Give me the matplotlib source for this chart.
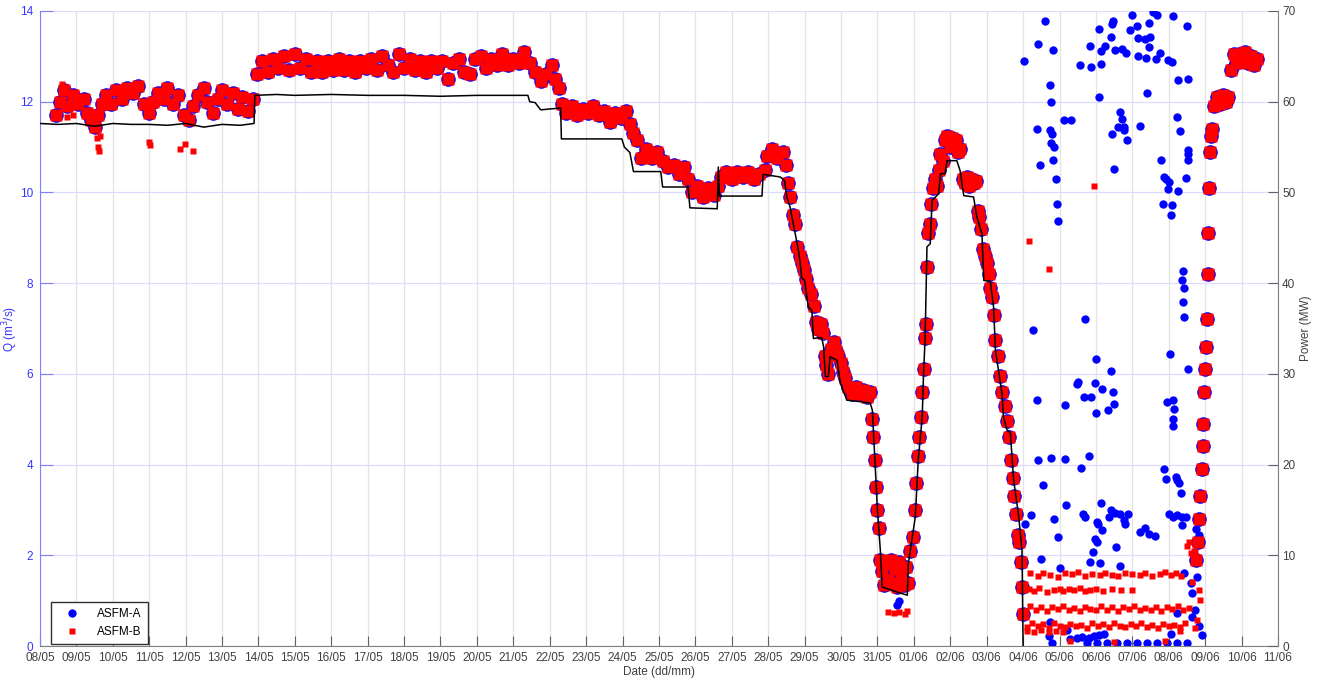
"""
ASFM flow meters vs generated power, 08/05 - 11/06
"""

import matplotlib
matplotlib.use("Agg")
import matplotlib.pyplot as plt
import matplotlib.dates as mdates
from datetime import datetime, timedelta

plt.rcParams['font.family'] = ['Liberation Sans', 'DejaVu Sans']
plt.rcParams['font.size'] = 8.5

START = datetime(2017, 5, 8)   # 08/05 = day 0

# Flow record where both meters agree (days after 08/05, Q in m3/s)
flow_0805_day = [0.45, 0.55, 0.65, 0.75, 0.9, 1.05, 1.2, 1.3, 1.4, 1.5,
                 1.6, 1.7, 1.8, 1.95, 2.1, 2.25, 2.4, 2.55, 2.7, 2.85,
                 3.0, 3.1, 3.25, 3.4, 3.5, 3.65, 3.8, 3.95, 4.1, 4.2,
                 4.35, 4.5, 4.6, 4.75, 4.9, 5.0, 5.15, 5.3, 5.45, 5.55,
                 5.7, 5.85]
flow_0805_q = [11.7, 12.0, 12.25, 11.9, 12.15, 11.95, 12.05, 11.75, 11.6, 11.45,
               11.7, 11.95, 12.15, 11.95, 12.25, 12.05, 12.3, 12.2, 12.35, 11.95,
               11.75, 12.0, 12.2, 12.05, 12.3, 11.95, 12.15, 11.7, 11.6, 11.9,
               12.15, 12.3, 12.0, 11.75, 12.05, 12.25, 11.95, 12.2, 11.85, 12.1,
               11.8, 12.05]

flow_1405_day = [5.95, 6.1, 6.25, 6.4, 6.55, 6.7, 6.85, 7.0, 7.15, 7.3,
                 7.45, 7.6, 7.75, 7.9, 8.05, 8.2, 8.35, 8.5, 8.65, 8.8,
                 8.95, 9.1, 9.25, 9.4, 9.55, 9.7, 9.85, 10.0, 10.15, 10.3,
                 10.45, 10.6, 10.75, 10.9, 11.05, 11.2, 11.35, 11.5, 11.65, 11.8,
                 11.95, 12.1, 12.25, 12.4, 12.55, 12.7, 12.85, 13.0, 13.15, 13.3,
                 13.45, 13.6, 13.75, 13.9, 14.05, 14.15]
flow_1405_q = [12.6, 12.9, 12.65, 12.95, 12.75, 13.0, 12.7, 13.05, 12.75, 12.95,
               12.65, 12.9, 12.65, 12.9, 12.7, 12.95, 12.7, 12.9, 12.65, 12.9,
               12.75, 12.95, 12.7, 13.0, 12.8, 12.65, 13.05, 12.75, 12.95, 12.7,
               12.9, 12.65, 12.9, 12.75, 12.9, 12.5, 12.85, 12.95, 12.65, 12.6,
               12.95, 13.0, 12.75, 12.95, 12.8, 13.05, 12.8, 12.95, 12.85, 13.1,
               12.85, 12.65, 12.45, 12.6, 12.8, 12.5]

flow_2205_day = [14.25, 14.35, 14.45, 14.6, 14.75, 14.9, 15.05, 15.2, 15.35, 15.5,
                 15.65, 15.8, 15.95, 16.1, 16.2, 16.3, 16.4, 16.5, 16.65, 16.8,
                 16.95, 17.1, 17.25, 17.4, 17.55, 17.7, 17.8, 17.9, 18.05, 18.2,
                 18.35, 18.5, 18.62, 18.7, 18.85, 19.0, 19.15, 19.3, 19.45, 19.6,
                 19.75, 19.9, 19.97, 20.1, 20.25, 20.4, 20.5]
flow_2205_q = [12.3, 11.95, 11.75, 11.9, 11.7, 11.85, 11.75, 11.9, 11.7, 11.8,
               11.55, 11.75, 11.65, 11.8, 11.5, 11.3, 11.15, 10.75, 10.95, 10.75,
               10.9, 10.7, 10.55, 10.6, 10.4, 10.55, 10.3, 10.0, 10.15, 9.9,
               10.1, 9.95, 10.15, 10.35, 10.45, 10.3, 10.45, 10.35, 10.45, 10.3,
               10.4, 10.5, 10.8, 10.95, 10.75, 10.9, 10.6]

flow_2805_day = [20.55, 20.6, 20.67, 20.73, 20.8, 20.86, 20.92, 20.98, 21.04, 21.1,
                 21.17, 21.25, 21.3, 21.37, 21.44, 21.5, 21.55, 21.6, 21.65, 21.72,
                 21.8, 21.87, 21.93, 22.0, 22.06, 22.12, 22.2, 22.3, 22.4, 22.5,
                 22.6, 22.7, 22.8]
flow_2805_q = [10.2, 9.9, 9.5, 9.3, 8.8, 8.6, 8.45, 8.3, 8.1, 7.9,
               7.75, 7.5, 7.15, 7.0, 7.1, 6.9, 6.4, 6.2, 6.0, 6.55,
               6.7, 6.5, 6.4, 6.25, 6.05, 5.9, 5.7, 5.55, 5.7, 5.55,
               5.65, 5.5, 5.6]

flow_3005_day = [22.85, 22.88, 22.92, 22.96, 22.99, 23.03, 23.07, 23.12, 23.18, 23.24,
                 23.3, 23.36, 23.42, 23.48, 23.54, 23.6, 23.66, 23.72, 23.78, 23.84,
                 23.9, 23.97, 24.03, 24.07, 24.11, 24.15, 24.19, 24.23, 24.27, 24.3,
                 24.33, 24.36, 24.4, 24.44, 24.48, 24.52, 24.57, 24.63, 24.68, 24.73,
                 24.8, 24.86, 24.92, 24.98, 25.04, 25.1, 25.16, 25.22, 25.28, 25.34,
                 25.4, 25.46, 25.52, 25.58, 25.64, 25.7, 25.76, 25.8, 25.85, 25.9,
                 25.95, 26.0, 26.06, 26.1, 26.15, 26.2, 26.24, 26.3, 26.36, 26.42,
                 26.5, 26.56, 26.62, 26.68, 26.72, 26.76, 26.8, 26.85, 26.9, 26.95,
                 26.98, 27.01]
flow_3005_q = [5.0, 4.6, 4.1, 3.5, 3.0, 2.6, 1.9, 1.65, 1.35, 1.8,
               1.45, 1.9, 1.4, 1.7, 1.3, 1.85, 1.5, 1.35, 1.75, 1.4,
               2.1, 2.4, 3.0, 3.6, 4.2, 4.6, 5.05, 5.6, 6.1, 6.8,
               7.1, 8.35, 9.1, 9.3, 9.75, 10.1, 10.3, 10.15, 10.5, 10.85,
               10.7, 11.15, 11.25, 11.0, 11.2, 11.05, 11.15, 10.9, 10.95, 10.3,
               10.2, 10.35, 10.15, 10.3, 10.2, 10.25, 9.6, 9.45, 9.2, 8.75,
               8.6, 8.45, 8.2, 7.9, 7.7, 7.3, 6.75, 6.4, 5.95, 5.6,
               5.3, 4.95, 4.6, 4.1, 3.7, 3.3, 2.9, 2.45, 2.3, 1.85,
               1.3, 0.7]

flow_0906_day = [31.75, 31.8, 31.84, 31.87, 31.9, 31.93, 31.95, 31.98, 32.0, 32.03,
                 32.05, 32.07, 32.09, 32.11, 32.14, 32.17, 32.2, 32.25, 32.32, 32.4,
                 32.48, 32.56, 32.64, 32.72, 32.78, 32.86, 32.94, 33.02, 33.1, 33.18,
                 33.26, 33.34, 33.42]
flow_0906_q = [1.9, 2.3, 2.8, 3.3, 3.9, 4.4, 4.9, 5.6, 6.1, 6.6,
               7.2, 8.2, 9.1, 10.1, 10.9, 11.25, 11.4, 11.9, 12.1, 11.95,
               12.15, 12.0, 12.1, 12.7, 13.05, 12.85, 13.05, 12.9, 13.1, 12.85,
               13.0, 12.8, 12.95]

# ASFM-A readings that scatter away from the record (mostly 04/06 - 09/06)
asfm_a_day = [27.03, 27.40, 27.59, 27.81, 27.74, 27.76, 27.38, 27.74, 27.79, 27.77,
              27.84, 27.82, 27.47, 27.90, 27.93, 27.95, 28.11, 28.31, 28.55, 28.84,
              28.87, 29.09, 29.13, 29.14, 29.24, 29.09, 29.42, 29.45, 29.47, 29.53,
              29.71, 29.82, 29.94, 29.99, 30.12, 30.15, 30.15, 30.35, 30.49, 30.45,
              30.47, 30.58, 30.67, 30.38, 30.66, 30.77, 30.98, 31.10, 31.11, 31.50,
              31.26, 31.52, 30.40, 29.49, 29.44, 29.67, 29.71, 29.76, 29.78, 29.85,
              30.22, 29.62, 31.23, 31.32, 30.80, 30.86, 30.92, 31.00, 30.97, 30.83,
              31.10, 31.06, 31.26, 31.54, 31.54, 31.52, 31.47,
              27.26, 27.38, 27.49, 27.54, 27.21, 27.06, 27.84, 27.97, 28.00, 27.42,
              27.77, 28.16, 28.19, 28.14, 28.60, 28.80, 28.71, 28.48, 28.52, 28.68,
              28.86, 28.98, 29.00, 29.01, 29.16, 29.14, 28.64, 28.71, 29.03, 29.05,
              29.16, 28.98, 29.04, 28.91, 28.84, 29.10, 29.32, 29.42, 29.47, 29.50,
              29.35, 29.41, 29.53, 29.65, 29.78, 29.81, 29.88, 29.55, 29.67, 30.22,
              30.35, 30.45, 30.63, 30.88, 30.92, 30.96, 31.04, 31.11, 31.11, 31.12,
              31.15, 31.20, 31.22, 31.29, 31.33, 31.02, 31.13, 31.22, 31.36, 31.47,
              31.37, 31.74, 31.82, 31.41, 31.40, 31.37, 31.42, 31.40, 31.41, 31.54,
              27.79, 27.75, 27.70, 28.21, 28.30, 28.48, 28.62, 28.80, 28.94, 29.08,
              29.21, 31.05, 31.23, 31.60, 31.64, 31.78, 31.73, 31.64, 31.82, 31.92,
              30.95, 28.76, 29.03, 29.31, 29.58, 29.86, 30.13, 30.40, 30.68, 31.22,
              31.50, 23.55, 23.58]
asfm_a_q = [12.89, 13.28, 13.77, 13.15, 12.37, 11.99, 11.40, 11.38, 11.29, 11.09,
            11.01, 10.72, 10.60, 10.30, 9.74, 9.36, 11.59, 11.59, 12.80, 13.22,
            12.76, 13.61, 12.83, 13.11, 13.22, 12.10, 13.42, 13.72, 13.77, 13.13,
            13.17, 13.08, 13.59, 13.92, 13.68, 13.40, 13.00, 13.39, 13.42, 13.20,
            13.73, 13.97, 13.92, 12.97, 12.94, 13.07, 12.91, 12.87, 13.90, 13.68,
            12.47, 12.49, 12.20, 10.52, 11.29, 11.77, 11.62, 11.44, 11.37, 11.15,
            11.46, 11.44, 11.67, 11.35, 10.72, 10.34, 10.29, 10.23, 10.07, 9.74,
            9.72, 9.51, 10.04, 10.93, 10.85, 10.71, 10.32,
            6.96, 5.42, 1.91, 3.54, 2.88, 2.68, 2.81, 2.41, 1.71, 4.11,
            4.15, 4.13, 3.10, 5.31, 3.93, 4.20, 7.20, 5.78, 5.81, 5.49,
            5.49, 5.80, 6.33, 5.14, 5.67, 3.15, 2.92, 2.85, 2.74, 2.70,
            2.55, 2.35, 2.30, 2.08, 1.86, 1.82, 5.20, 6.07, 5.61, 5.33,
            2.85, 2.99, 2.93, 2.92, 2.77, 2.70, 2.90, 2.19, 1.76, 2.52,
            2.60, 2.46, 2.43, 3.91, 3.68, 5.38, 6.43, 5.42, 5.01, 4.84,
            5.23, 3.73, 3.65, 3.60, 3.37, 2.92, 2.85, 2.88, 2.85, 2.85,
            2.66, 2.59, 2.44, 1.61, 8.26, 8.06, 7.89, 7.58, 7.25, 6.11,
            0.06, 0.54, 0.21, 0.35, 0.15, 0.17, 0.19, 0.17, 0.22, 0.24,
            0.27, 0.26, 0.72, 1.38, 1.16, 1.53, 0.79, 0.65, 0.43, 0.24,
            0.06, 0.06, 0.06, 0.07, 0.06, 0.06, 0.07, 0.06, 0.06, 0.07,
            0.06, 0.9, 1.0]

# ASFM-B low-flow bands after 04/06 and other stray readings
asfm_b_day = [27.05, 27.2, 27.35, 27.5, 27.65, 27.8, 27.95, 28.1, 28.25, 28.4,
              28.55, 28.7, 28.85, 29.0, 29.15, 29.3, 29.45, 29.6, 29.75, 29.9,
              30.05, 30.2, 30.35, 30.5, 30.65, 30.8, 30.95, 31.1, 31.25, 31.4,
              31.55,
              27.1, 27.25, 27.4, 27.55, 27.7, 27.85, 28.0, 28.15, 28.3, 28.45,
              28.6, 28.75, 28.9, 29.05, 29.2, 29.35, 29.5, 29.65, 29.8, 29.95,
              30.1, 30.25, 30.4, 30.55, 30.7, 30.85, 31.0, 31.15, 31.3, 31.45,
              27.15, 27.3, 27.45, 27.65, 27.85, 28.0, 28.1, 28.25, 28.4, 28.55,
              28.7, 28.85, 29.0, 29.2, 29.45, 29.7, 30.0,
              27.2, 27.4, 27.55, 27.75, 27.95, 28.15, 28.35, 28.5, 28.7, 28.9,
              29.1, 29.25, 29.45, 29.6, 29.8, 30.0, 30.2, 30.35, 30.55, 30.75,
              30.9, 31.05, 31.2, 31.35,
              27.1, 27.3, 27.5, 27.7, 27.9, 28.1, 28.3, 29.5, 30.9, 31.3,
              31.5, 31.55, 31.6, 31.64, 31.68, 31.7, 31.73, 31.73, 31.78, 31.78,
              31.82, 31.87,
              0.6, 0.73, 0.92, 1.57, 1.6, 1.62, 1.65, 3.0, 3.03, 3.85,
              3.98, 4.2, 23.3, 23.45, 23.6, 23.75, 23.82, 27.16, 27.72, 28.96]
asfm_b_q = [0.78, 0.88, 0.8, 0.86, 0.77, 0.85, 0.81, 0.89, 0.79, 0.84,
            0.78, 0.87, 0.82, 0.79, 0.88, 0.8, 0.85, 0.78, 0.86, 0.81,
            0.88, 0.79, 0.84, 0.8, 0.87, 0.78, 0.85, 0.82, 0.88, 0.8,
            0.84,
            0.42, 0.5, 0.44, 0.48, 0.4, 0.5, 0.45, 0.41, 0.49, 0.44,
            0.47, 0.4, 0.5, 0.43, 0.48, 0.42, 0.5, 0.45, 0.41, 0.48,
            0.44, 0.5, 0.42, 0.46, 0.4, 0.49, 0.44, 0.47, 0.42, 0.5,
            1.25, 1.22, 1.28, 1.2, 1.24, 1.26, 1.22, 1.25, 1.23, 1.27,
            1.21, 1.24, 1.25, 1.22, 1.26, 1.23, 1.24,
            1.6, 1.55, 1.62, 1.57, 1.53, 1.6, 1.58, 1.63, 1.55, 1.59,
            1.56, 1.61, 1.57, 1.54, 1.6, 1.58, 1.56, 1.62, 1.55, 1.59,
            1.64, 1.57, 1.6, 1.55,
            0.33, 0.3, 0.35, 0.31, 0.33, 0.3, 0.12, 0.08, 0.1, 0.34,
            2.2, 2.3, 2.05, 1.42, 1.95, 2.1, 0.39, 2.08, 1.89, 0.57,
            1.23, 1.01,
            12.4, 11.66, 11.7, 11.2, 11.0, 10.92, 11.25, 11.12, 11.05, 10.96,
            11.06, 10.92, 0.75, 0.72, 0.74, 0.7, 0.78, 8.94, 8.32, 10.15]

# Plant output (MW, right axis)
power_day = [0.0, 0.5, 1.0, 1.5, 2.0, 2.5, 3.0, 3.5, 4.0, 4.5,
             5.0, 5.5, 5.88, 5.9, 6.5, 7.0, 8.0, 9.0, 10.0, 11.0,
             12.0, 13.0, 13.4, 13.45, 13.6, 13.75, 14.0, 14.3, 14.32, 15.0,
             15.98, 16.05, 16.2, 16.3, 17.05, 17.1, 17.8, 17.85, 18.6, 18.63,
             18.66, 19.83, 19.86, 20.33, 20.45, 20.51, 20.6, 20.65, 20.74, 20.83,
             20.88, 20.92, 21.0, 21.1, 21.2, 21.24, 21.47, 21.52, 21.57, 21.65,
             21.7, 21.89, 21.98, 22.16, 22.8, 22.86, 23.0, 23.08, 23.13, 23.54,
             23.82, 23.85, 24.04, 24.12, 24.23, 24.26, 24.31, 24.36, 24.45, 24.5,
             24.68, 24.73, 24.86, 24.91, 25.18, 25.27, 25.37, 25.64, 25.73, 25.87,
             25.92, 26.1, 26.19, 26.24, 26.42, 26.46, 26.56, 26.65, 26.74, 26.88,
             26.97, 27.0]
power_mw = [57.6, 57.5, 57.6, 57.3, 57.6, 57.5, 57.5, 57.4, 57.6, 57.2,
            57.5, 57.4, 57.6, 60.7, 60.8, 60.7, 60.8, 60.7, 60.7, 60.6,
            60.7, 60.7, 60.7, 60.0, 59.9, 59.1, 59.2, 59.3, 55.9, 55.9,
            55.9, 55.0, 54.4, 52.3, 52.3, 50.6, 50.6, 48.3, 48.2, 52.8,
            49.6, 49.6, 52.0, 51.7, 51.3, 49.5, 48.4, 47.3, 45.5, 43.6,
            42.2, 40.6, 40.3, 37.4, 37.0, 33.9, 34.0, 33.0, 29.7, 29.7,
            31.9, 31.5, 29.0, 27.1, 26.8, 26.0, 15.0, 10.5, 6.5, 5.95,
            5.6, 9.15, 14.25, 20.5, 25.25, 29.3, 34.05, 44.0, 44.35, 49.1,
            49.85, 52.05, 52.1, 53.5, 53.5, 52.4, 49.65, 49.5, 47.3, 45.45,
            40.3, 40.2, 37.35, 32.6, 27.85, 25.25, 23.8, 23.5, 18.3, 14.25,
            10.55, 0.0]

q_ticks = [0, 2, 4, 6, 8, 10, 12, 14]
power_ticks = [0, 10, 20, 30, 40, 50, 60, 70]


def to_dates(days):
    return [START + timedelta(days=d) for d in days]


record = [(flow_0805_day, flow_0805_q), (flow_1405_day, flow_1405_q),
          (flow_2205_day, flow_2205_q), (flow_2805_day, flow_2805_q),
          (flow_3005_day, flow_3005_q), (flow_0906_day, flow_0906_q)]

fig = plt.figure(figsize=(13.19, 6.79), dpi=100)
ax = fig.add_axes([0.0303, 0.0486, 0.9386, 0.9352])
ax2 = ax.twinx()

# blue underneath, red on top
for days, q in record:
    ax.plot(to_dates(days), q, 'o', color='#0000ff', ms=10.5, mec='none', zorder=2)
ax.plot(to_dates(asfm_a_day), asfm_a_q, 'o', color='#0000ff', ms=6, mec='none',
        zorder=2, label='ASFM-A')
for days, q in record:
    ax.plot(to_dates(days), q, 's', color='#ff0000', ms=8, mec='none', zorder=3)
ax.plot(to_dates(asfm_b_day), asfm_b_q, 's', color='#ff0000', ms=3.8, mec='none',
        zorder=3, label='ASFM-B')

ax2.plot(to_dates(power_day), power_mw, color='black', lw=1.1)

ax.set_xlim(START, START + timedelta(days=34))
ax.set_ylim(0, 14)
ax2.set_ylim(0, 70)
ax.set_yticks(q_ticks)
ax2.set_yticks(power_ticks)

ax.xaxis.set_major_locator(mdates.DayLocator())
ax.xaxis.set_major_formatter(mdates.DateFormatter('%d/%m'))

ax.set_axisbelow(True)
ax.grid(axis='x', color='#e4e4e4', linewidth=0.9)
ax.grid(axis='y', color='#dcdcff', linewidth=0.9)

ax.spines['top'].set_visible(False)
ax.spines['right'].set_visible(False)
ax.spines['left'].set_color('#8080ff')
ax.spines['bottom'].set_color('#808080')
for side in ['top', 'left', 'bottom']:
    ax2.spines[side].set_visible(False)
ax2.spines['right'].set_color('#808080')

ax.tick_params(axis='y', direction='in', length=9, color='#8080ff',
               labelcolor='#3535ff', pad=5)
ax.tick_params(axis='x', direction='in', length=7, color='#606060',
               labelcolor='#404040', pad=4.5)
ax2.tick_params(axis='y', direction='in', length=7, color='#606060',
                labelcolor='#404040', pad=3)

ax.set_ylabel('Q (m$^3$/s)', color='#3535ff')
ax.yaxis.set_label_coords(-0.016, 0.5)
ax2.set_ylabel('Power (MW)', color='#404040')
ax2.yaxis.set_label_coords(1.018, 0.5)
ax.set_xlabel('Date (dd/mm)', color='#404040', labelpad=1)

ax.legend(loc='lower left', bbox_to_anchor=(0.009, 0.003), borderaxespad=0,
          fancybox=False, edgecolor='#303030', framealpha=1, handlelength=2.6,
          handletextpad=0.8, borderpad=0.5, labelspacing=0.5)

plt.savefig('out.png', dpi=100)
